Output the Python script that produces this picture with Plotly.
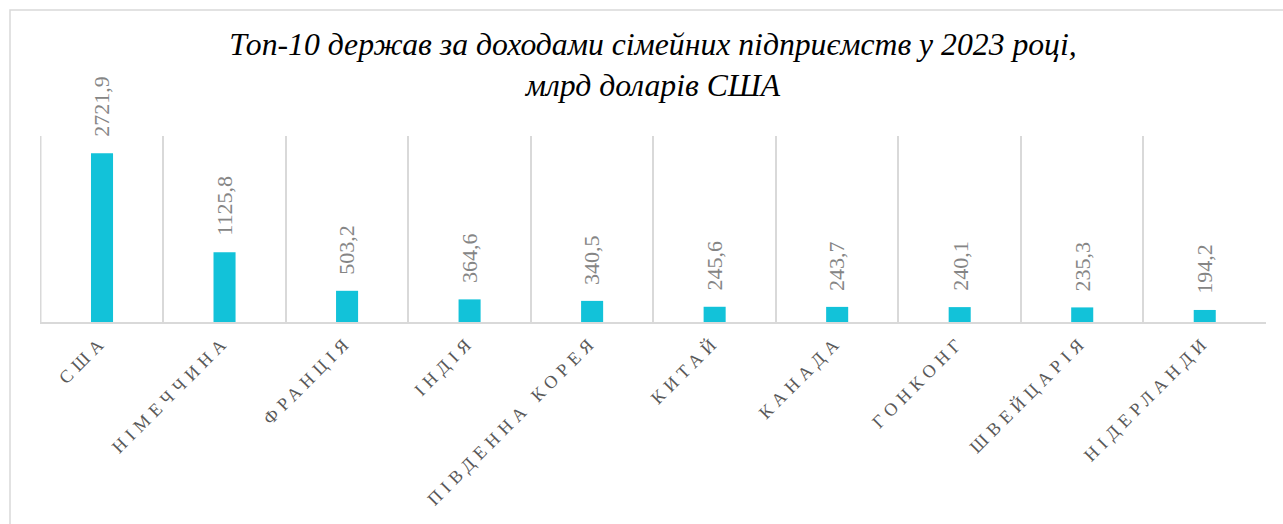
import plotly.graph_objects as go

categories = ["США", "НІМЕЧЧИНА", "ФРАНЦІЯ", "ІНДІЯ", "ПІВДЕННА КОРЕЯ",
              "КИТАЙ", "КАНАДА", "ГОНКОНГ", "ШВЕЙЦАРІЯ", "НІДЕРЛАНДИ"]
revenues = [2721.9, 1125.8, 503.2, 364.6, 340.5, 245.6, 243.7, 240.1, 235.3, 194.2]
value_labels = [f"{v:.1f}".replace(".", ",") for v in revenues]

title_text = ("Топ-10 держав за доходами сімейних підприємств у 2023 році,"
              "<br>млрд доларів США")

W, H = 1283, 524
L, R, T, B = 40, 17, 136, 202
pw, ph = W - L - R, H - T - B

def px_x(p):
    return (p - L) / pw

def px_y(p):
    return (H - B - p) / ph

SERIF = "Liberation Serif"

fig = go.Figure()
fig.add_trace(go.Bar(
    x=categories, y=revenues,
    marker=dict(color="#12C2D9", line=dict(width=0)),
    width=0.18,
    hoverinfo="skip",
))

for c, v, t in zip(categories, revenues, value_labels):
    fig.add_annotation(x=c, y=v, text=t, textangle=-90, showarrow=False,
                       xanchor="center", yanchor="bottom", yshift=14,
                       font=dict(family=SERIF, size=22, color="#858585"))

fig.update_layout(
    width=W, height=H,
    margin=dict(l=L, r=R, t=T, b=B, pad=0),
    paper_bgcolor="white", plot_bgcolor="white",
    showlegend=False,
    title=dict(text=title_text, x=0.5, xref="paper", xanchor="center",
               y=1 - 55 / H, yref="container", yanchor="top",
               font=dict(family=SERIF, size=31.7, color="black", style="italic")),
    xaxis=dict(type="category", tickson="boundaries", showgrid=True,
               gridcolor="#d9d9d9", gridwidth=1.5,
               showline=True, linecolor="#d9d9d9", linewidth=1.5,
               ticks="", tickangle=-45, automargin=False,
               tickfont=dict(family=SERIF, size=18, color="#595959"),
               fixedrange=True),
    yaxis=dict(range=[0, 3000], showgrid=False, zeroline=False, automargin=False,
               showticklabels=False, ticks="", showline=False, fixedrange=True),
    bargap=0.82,
)

# left category boundary line
fig.add_shape(type="line", xref="x", yref="paper", x0=-0.5, x1=-0.5, y0=0, y1=1,
              line=dict(color="#d9d9d9", width=1.5), layer="below")

# outer chart frame (partially outside the visible page)
fig.add_shape(type="rect", xref="paper", yref="paper",
              x0=px_x(10), x1=px_x(1295), y0=px_y(540), y1=px_y(10),
              line=dict(color="#d9d9d9", width=1.5), layer="below")

# figure caption cut off at the top right
fig.add_annotation(text="Рис. 1", xref="paper", yref="paper",
                   x=px_x(1180), y=px_y(8), xanchor="left", yanchor="bottom",
                   showarrow=False,
                   font=dict(family=SERIF, size=27, color="black"))

post = """
document.body.style.margin='0';
document.querySelectorAll('.xtick text').forEach(function(t){t.style.letterSpacing='5.5px';});
"""
fig.write_html("out.html", post_script=post, config={"displayModeBar": False})
